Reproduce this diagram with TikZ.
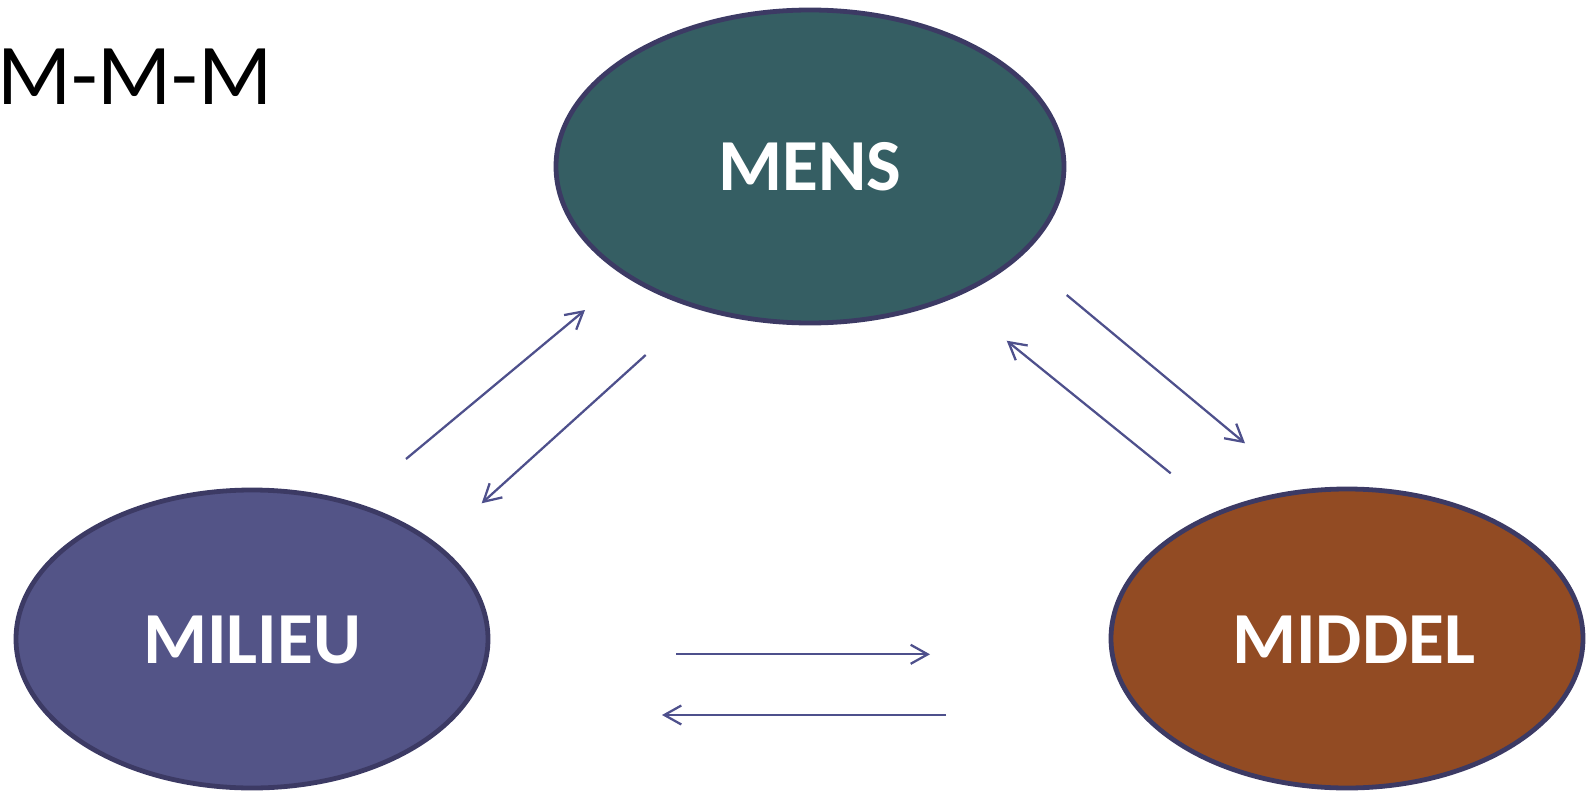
\documentclass[tikz,border=0pt]{standalone}
\usepackage{fontspec}
\setmainfont{Carlito}
\usetikzlibrary{shapes.geometric,arrows.meta}
\definecolor{mensfill}{RGB}{53,94,99}
\definecolor{milieufill}{RGB}{83,84,135}
\definecolor{middelfill}{RGB}{146,75,35}
\definecolor{rimcol}{RGB}{60,58,100}
\definecolor{arrcol}{RGB}{78,80,140}
\tikzset{
  blob/.style={ellipse, draw=rimcol, line width=3.6pt, inner sep=0pt},
  blobtext/.style={text=white, font=\fontsize{55}{60}\selectfont\bfseries},
  link/.style={draw=arrcol, line width=1.7pt,
    -{Straight Barb[length=12.75pt,width=14.25pt,line width=1.7pt]}}
}
\begin{document}
\begin{tikzpicture}[x=0.75pt,y=-0.75pt]
\useasboundingbox (0,0) rectangle (1586,792);
\node[anchor=base west, inner sep=0pt, font=\fontsize{65}{70}\selectfont] (title) at (-3,105) {M-M-M};
\node[blob, fill=mensfill, minimum width=381pt, minimum height=234.75pt] (mens) at (810,166.5) {};
\node[blob, fill=milieufill, minimum width=354pt, minimum height=223.5pt] (milieu) at (252,639) {};
\node[blob, fill=middelfill, minimum width=354pt, minimum height=224.25pt] (middel) at (1347,638.5) {};
\node[blobtext] (mensT) at (mens.center) {MENS};
\node[blobtext] (milieuT) at ([yshift=-0.75pt]milieu.center) {MILIEU};
\node[blobtext] (middelT) at ([xshift=5pt,yshift=-1pt]middel.center) {MIDDEL};
\coordinate (a1s) at (406,459);   \coordinate (a1e) at (585,310);
\coordinate (a2s) at (645.7,355); \coordinate (a2e) at (481.7,503.3);
\coordinate (a3s) at (1066.7,295); \coordinate (a3e) at (1245,443.3);
\coordinate (a4s) at (1170.7,473.3); \coordinate (a4e) at (1006.7,340.7);
\coordinate (a5s) at (676,654.3); \coordinate (a5e) at (930,654.3);
\coordinate (a6s) at (946,715); \coordinate (a6e) at (662,715);
\draw[link] (a1s) -- (a1e);
\draw[link] (a2s) -- (a2e);
\draw[link] (a3s) -- (a3e);
\draw[link] (a4s) -- (a4e);
\draw[link] (a5s) -- (a5e);
\draw[link] (a6s) -- (a6e);
\end{tikzpicture}
\end{document}
